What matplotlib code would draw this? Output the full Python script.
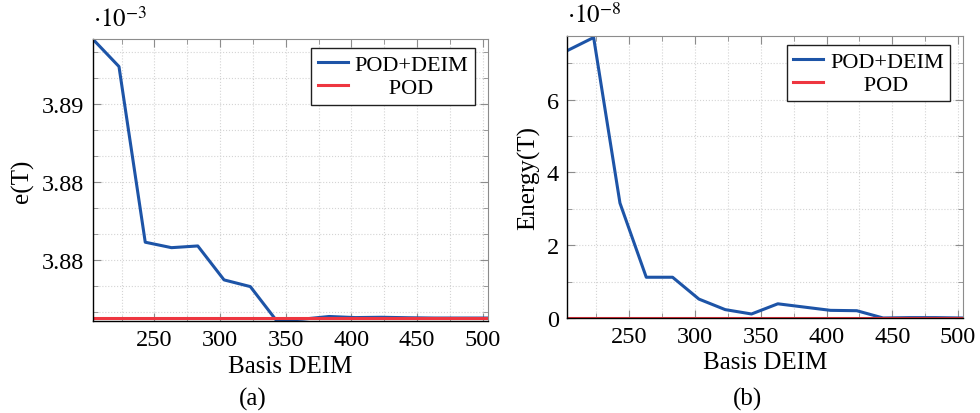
import matplotlib
matplotlib.use("Agg")
import matplotlib.pyplot as plt
from matplotlib.ticker import MultipleLocator, FormatStrFormatter

plt.rcParams['font.family'] = ['Liberation Serif', 'DejaVu Serif']
plt.rcParams['mathtext.fontset'] = 'stix'

# number of DEIM basis functions
basis = [203, 223, 243, 263, 283, 303, 323, 343, 363, 383, 403, 423, 443, 463, 483, 503]

# (a) error, in units of 1e-3
err_deim = [3.88917, 3.8874, 3.87612, 3.87577, 3.87588, 3.87370, 3.87327, 3.87108,
            3.87118, 3.87135, 3.87128, 3.87130, 3.87127, 3.87125, 3.87125, 3.87125]
err_pod = [3.87125] * len(basis)

# (b) energy, in units of 1e-8
en_deim = [7.35, 7.71, 3.16, 1.12, 1.12, 0.52, 0.23, 0.11, 0.39, 0.30, 0.21, 0.20,
           0.0, 0.01, 0.01, 0.0]
en_pod = [0.0] * len(basis)

labels = ['POD+DEIM', '      POD']

BLUE = '#1d54a7'
RED = '#ee3640'
FS = 17.5
LFS = 18


def style_axes(ax):
    ax.grid(True, which='both', color='#d4d4d4', linestyle=':', linewidth=0.8)
    ax.tick_params(which='both', direction='in', top=True, right=True,
                   color='#8c8c8c', labelsize=FS, pad=6)
    ax.tick_params(which='major', length=6)
    ax.tick_params(which='minor', length=3.5)
    for side in ('top', 'right'):
        ax.spines[side].set_color('#8c8c8c')
    for side in ('left', 'bottom'):
        ax.spines[side].set_color('black')
        ax.spines[side].set_linewidth(1.0)
    ax.set_xlim(203, 504)
    ax.xaxis.set_major_locator(MultipleLocator(50))
    ax.xaxis.set_minor_locator(MultipleLocator(25))
    ax.set_xlabel('Basis DEIM', fontsize=LFS, labelpad=3)


fig = plt.figure(figsize=(9.8, 4.14), dpi=100)
ax1 = fig.add_axes([0.0946, 0.2222, 0.4034, 0.6812])
ax2 = fig.add_axes([0.5789, 0.2295, 0.4041, 0.6819])

ax1.plot(basis, err_deim, color=BLUE, lw=2.2, label=labels[0])
ax1.plot(basis, err_pod, color=RED, lw=2.2, label=labels[1])
style_axes(ax1)
ax1.set_ylim(3.87106, 3.88917)
ax1.yaxis.set_major_locator(MultipleLocator(0.005))
ax1.yaxis.set_minor_locator(MultipleLocator(0.005 / 3))
ax1.yaxis.set_major_formatter(FormatStrFormatter('%.2f'))
ax1.set_ylabel('e(T)', fontsize=LFS, labelpad=6)
ax1.text(0.0, 1.03, r'$\cdot10^{-3}$', transform=ax1.transAxes,
         fontsize=LFS, ha='left', va='bottom')

ax2.plot(basis, en_deim, color=BLUE, lw=2.2, label=labels[0])
ax2.plot(basis, en_pod, color=RED, lw=2.2, label=labels[1])
style_axes(ax2)
ax2.set_ylim(0, 7.76)
ax2.yaxis.set_major_locator(MultipleLocator(2))
ax2.yaxis.set_minor_locator(MultipleLocator(1))
ax2.set_ylabel('Energy(T)', fontsize=LFS, labelpad=5)
ax2.text(0.0, 1.03, r'$\cdot10^{-8}$', transform=ax2.transAxes,
         fontsize=LFS, ha='left', va='bottom')

for ax in (ax1, ax2):
    leg = ax.legend(loc='upper right', bbox_to_anchor=(0.99, 1.0), fontsize=16,
                    frameon=True, fancybox=False, edgecolor='#202020', framealpha=1,
                    borderaxespad=0.4, handlelength=1.36, handletextpad=0.3,
                    borderpad=0.3, labelspacing=0.1)
    leg.get_frame().set_linewidth(1.0)

fig.text(0.258, 0.035, '(a)', fontsize=LFS, ha='center', va='center')
fig.text(0.763, 0.035, '(b)', fontsize=LFS, ha='center', va='center')

fig.savefig('out.png', dpi=100)
